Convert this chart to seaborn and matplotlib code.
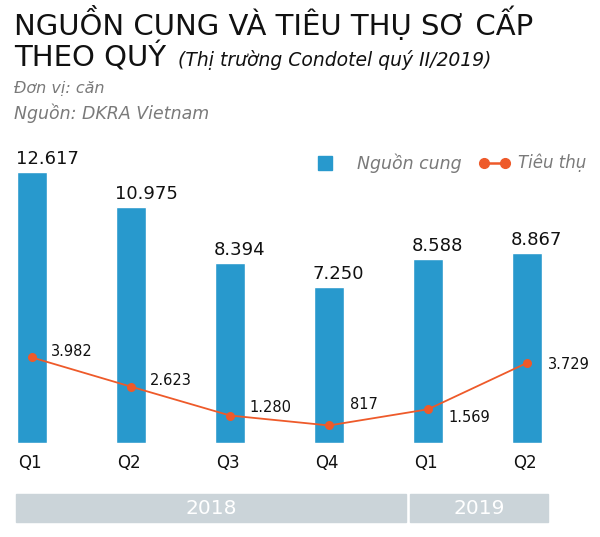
import matplotlib
matplotlib.use("Agg")
import matplotlib.pyplot as plt
import seaborn as sns
import pandas as pd
import numpy as np
from matplotlib.patches import Rectangle
from matplotlib.lines import Line2D

quarters = ["Q1", "Q2", "Q3", "Q4", "Q1", "Q2"]
keys = ["2018-Q1", "2018-Q2", "2018-Q3", "2018-Q4", "2019-Q1", "2019-Q2"]
supply = [12617, 10975, 8394, 7250, 8588, 8867]
sold = [3982, 2623, 1280, 817, 1569, 3729]
supply_labels = ["12.617", "10.975", "8.394", "7.250", "8.588", "8.867"]
sold_labels = ["3.982", "2.623", "1.280", "817", "1.569", "3.729"]
years = ["2018", "2019"]

# label offsets for the line values (pixels, dx, dy up)
sold_offsets = [(19, 6), (19, 6), (19, 8), (21, 21), (20, -8), (21, -2)]

BLUE = "#2899cd"
ORANGE = "#ee5a2a"
GRAY = "#7a7a7a"

sns.set_theme(style="white")
FONT = "DejaVu Sans"
plt.rcParams["font.family"] = [FONT]

W, H = 600, 537
fig = plt.figure(figsize=(6, 5.37), dpi=100)

ax_top, ax_bot = 150, 443
ax = fig.add_axes([0, 1 - ax_bot / H, 1, (ax_bot - ax_top) / H])
px_per_unit = 271 / 12617
spacing = 99
bar_w = 0.31

df = pd.DataFrame({"key": keys, "supply": supply, "sold": sold})
sns.barplot(data=df, x="key", y="supply", color=BLUE, saturation=1, width=bar_w, ax=ax)
sns.pointplot(data=df, x="key", y="sold", color=ORANGE, markers="o", linestyles="-",
              markersize=5.5, linewidth=1.3, ax=ax)
ax.set_xlim(-32 / spacing, (W - 32) / spacing)
ax.set_ylim(0, (ax_bot - ax_top) / px_per_unit)
ax.axis("off")

for i, (v, lab) in enumerate(zip(supply, supply_labels)):
    ax.annotate(lab, (i - bar_w / 2, v), xytext=(-1, 4), textcoords="offset pixels",
                ha="left", va="bottom", fontsize=13, color="#111111")
for i, (v, lab) in enumerate(zip(sold, sold_labels)):
    dx, dy = sold_offsets[i]
    ax.annotate(lab, (i, v), xytext=(dx, dy), textcoords="offset pixels",
                ha="left", va="center", fontsize=10.5, color="#111111")

def fx(x):
    return x / W
def fy(y):
    return 1 - y / H

for i, q in enumerate(quarters):
    fig.text(fx(30 + i * spacing), fy(463), q, ha="center", va="center", fontsize=12, color="#111111")

bands = [(16, 406), (410, 548)]
for (x0, x1), yr in zip(bands, years):
    fig.patches.append(Rectangle((fx(x0), fy(522)), fx(x1 - x0), (522 - 494) / H,
                                 transform=fig.transFigure, color="#cbd4d9", zorder=0))
    fig.text(fx((x0 + x1) / 2), fy(508), yr, ha="center", va="center", fontsize=14.5, color="white")

fig.text(fx(14), fy(23), "NGUỒN CUNG VÀ TIÊU THỤ SƠ CẤP", ha="left", va="center",
         fontsize=21, color="#111111")
fig.text(fx(14), fy(58), "THEO QUÝ", ha="left", va="center", fontsize=21, color="#111111")
fig.text(fx(178), fy(60), "(Thị trường Condotel quý II/2019)", ha="left", va="center",
         fontsize=13.5, style="italic", color="#111111")
fig.text(fx(14), fy(89), "Đơn vị: căn", ha="left", va="center", fontsize=11.5, style="italic", color=GRAY)
fig.text(fx(14), fy(113), "Nguồn: DKRA Vietnam", ha="left", va="center", fontsize=12.5, style="italic", color=GRAY)

fig.patches.append(Rectangle((fx(318), fy(170)), fx(14), 14 / H, transform=fig.transFigure, color=BLUE))
fig.text(fx(357), fy(163), "Nguồn cung", ha="left", va="center", fontsize=12.5, style="italic", color=GRAY)
fig.lines.append(Line2D([fx(484), fx(505)], [fy(163), fy(163)], transform=fig.transFigure,
                        color=ORANGE, lw=1.8, marker="o", markersize=7))
fig.text(fx(518), fy(163), "Tiêu thụ", ha="left", va="center", fontsize=12, style="italic", color=GRAY)

fig.savefig("out.png", dpi=100, facecolor="white")
